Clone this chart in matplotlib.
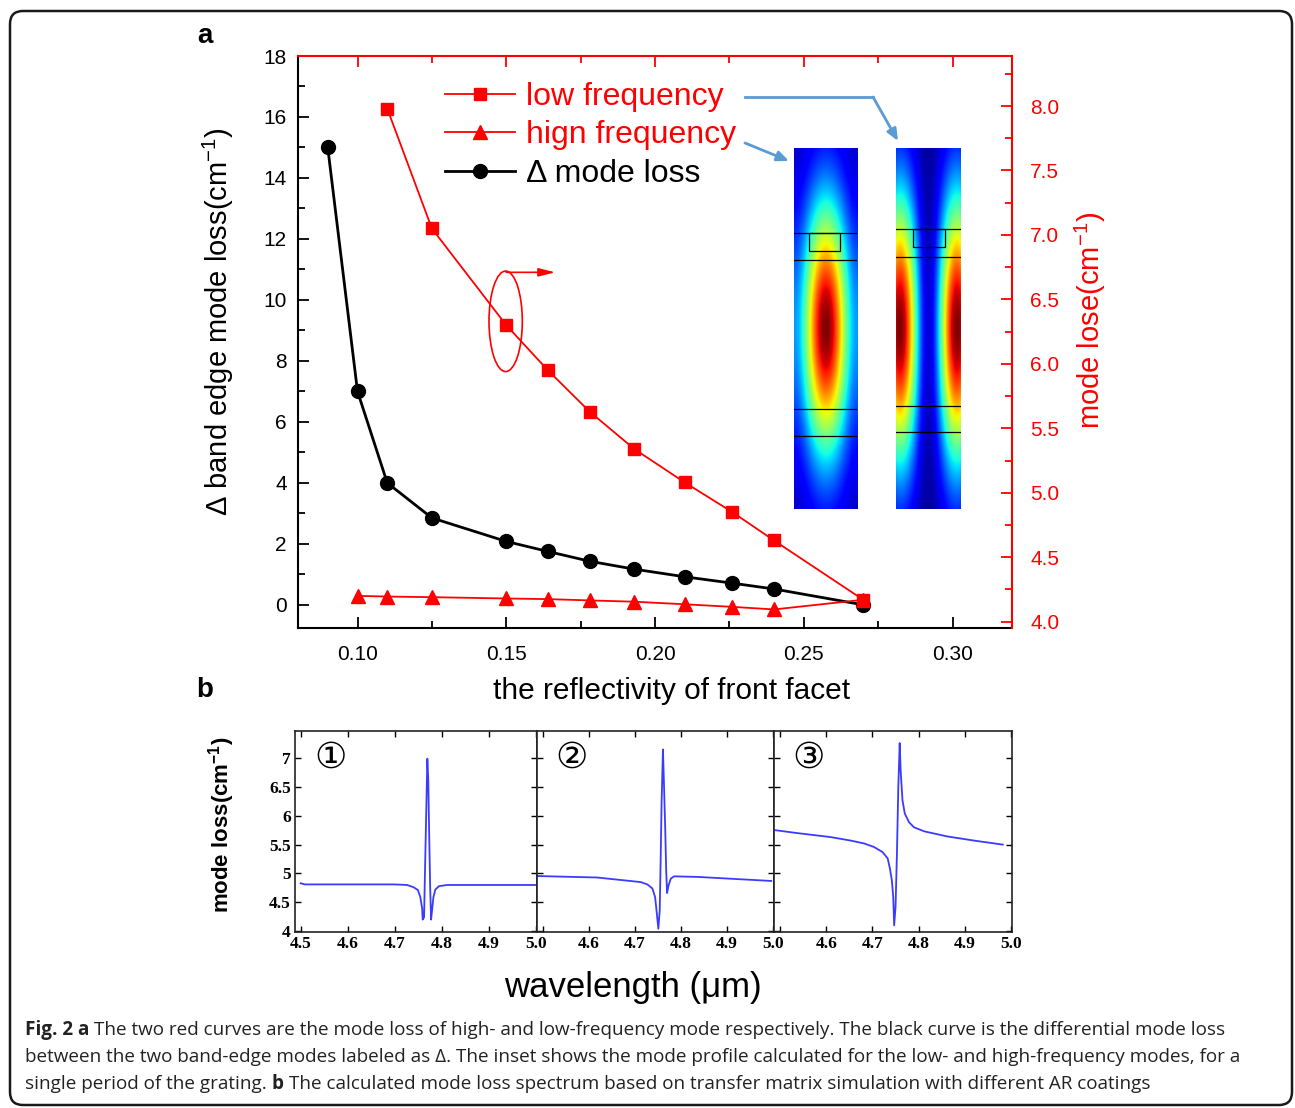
import numpy as np
import matplotlib
matplotlib.use('Agg')
import matplotlib.pyplot as plt
from matplotlib.patches import Ellipse, Rectangle, FancyBboxPatch
from matplotlib.lines import Line2D
from matplotlib.ticker import MultipleLocator, FixedLocator, FixedFormatter
from matplotlib.transforms import IdentityTransform

plt.rcParams['font.family'] = ['Liberation Sans', 'DejaVu Sans']
plt.rcParams['mathtext.default'] = 'regular'

# ---- panel a: mode loss vs. reflectivity of the front facet ----
refl_delta = [0.09, 0.10, 0.11, 0.125, 0.15, 0.164, 0.178, 0.193, 0.21, 0.226, 0.24, 0.27]
delta_loss = [15.0, 7.0, 4.0, 2.85, 2.08, 1.75, 1.43, 1.17, 0.92, 0.71, 0.52, 0.0]
refl_low = [0.11, 0.125, 0.15, 0.164, 0.178, 0.193, 0.21, 0.226, 0.24, 0.27]
loss_low = [7.98, 7.05, 6.30, 5.95, 5.63, 5.34, 5.08, 4.85, 4.63, 4.17]
refl_high = [0.10, 0.11, 0.125, 0.15, 0.164, 0.178, 0.193, 0.21, 0.226, 0.24, 0.27]
loss_high = [4.20, 4.195, 4.19, 4.18, 4.175, 4.165, 4.155, 4.135, 4.115, 4.095, 4.17]
legend_labels = ['low frequency', 'hign frequency', 'Δ mode loss']

# ---- panel b: mode loss spectra for three AR coatings ----
wl_1 = [4.499, 4.508, 4.697, 4.726, 4.740, 4.749, 4.754, 4.758, 4.759, 4.762, 4.764, 4.767,
        4.769, 4.771, 4.773, 4.775, 4.777, 4.779, 4.782, 4.786, 4.794, 4.811, 5.0]
loss_1 = [4.83, 4.81, 4.81, 4.80, 4.76, 4.71, 4.59, 4.39, 4.20, 4.24, 5.05, 6.21,
          6.99, 6.61, 5.63, 4.76, 4.20, 4.36, 4.59, 4.72, 4.78, 4.80, 4.80]
wl_2 = [4.489, 4.618, 4.713, 4.727, 4.738, 4.744, 4.747, 4.751, 4.754, 4.756, 4.758,
        4.761, 4.763, 4.766, 4.768, 4.770, 4.773, 4.778, 4.785, 4.836, 4.996]
loss_2 = [4.955, 4.93, 4.85, 4.81, 4.74, 4.59, 4.36, 4.04, 4.36, 5.23, 6.21,
          7.15, 6.61, 5.75, 5.05, 4.66, 4.79, 4.91, 4.95, 4.94, 4.87]
wl_3 = [4.490, 4.537, 4.610, 4.653, 4.682, 4.703, 4.722, 4.733, 4.738, 4.742, 4.745,
        4.747, 4.750, 4.753, 4.756, 4.759, 4.761, 4.765, 4.770, 4.779, 4.790, 4.812,
        4.863, 4.920, 4.982]
loss_3 = [5.75, 5.70, 5.63, 5.57, 5.52, 5.46, 5.37, 5.26, 5.08, 4.88, 4.59,
          4.10, 4.42, 5.34, 6.50, 7.26, 6.79, 6.27, 6.04, 5.89, 5.80, 5.73,
          5.64, 5.57, 5.50]
spectra = [(wl_1, loss_1), (wl_2, loss_2), (wl_3, loss_3)]
panel_marks = ['①', '②', '③']
b_yticks = [4, 4.5, 5, 5.5, 6, 6.5, 7]
b_yticklabels = ['4', '4.5', '5', '5.5', '6', '6.5', '7']
b_xticks = [4.5, 4.6, 4.7, 4.8, 4.9, 5.0]
b_xticklabels = ['4.5', '4.6', '4.7', '4.8', '4.9', '5.0']

caption = [
    [('Fig. 2 a', True), ('The two red curves are the mode loss of high- and low-frequency mode respectively. The black curve is the differential mode loss', False)],
    [('between the two band-edge modes labeled as Δ. The inset shows the mode profile calculated for the low- and high-frequency modes, for a', False)],
    [('single period of the grating.', False), ('b', True), ('The calculated mode loss spectrum based on transfer matrix simulation with different AR coatings', False)],
]

W, H = 1295, 1108
fig = plt.figure(figsize=(W / 100, H / 100), dpi=100)


def px_axes(x0, y0, x1, y1):
    # axes box given in pixels of the reference (origin top-left)
    return fig.add_axes([x0 / W, 1 - y1 / H, (x1 - x0) / W, (y1 - y0) / H])


def fx(x):
    return x / W


def fy(y):
    return 1 - y / H


# ================= panel a =================
ax = px_axes(298, 56, 1012, 628)
ax2 = ax.twinx()

l_delta, = ax.plot(refl_delta, delta_loss, '-o', color='black', lw=2, ms=10)
l_low, = ax2.plot(refl_low, loss_low, '-s', color='red', lw=1.3, ms=8.5)
l_high, = ax2.plot(refl_high, loss_high, '-^', color='red', lw=1.3, ms=9.5)

ax.set_xlim(0.08, 0.32)
ax.set_ylim(-0.76, 18)
ax2.set_ylim(3.951, 8.388)

ax.xaxis.set_major_locator(MultipleLocator(0.05))
ax.xaxis.set_minor_locator(MultipleLocator(0.025))
ax.yaxis.set_major_locator(MultipleLocator(2))
ax.yaxis.set_minor_locator(MultipleLocator(1))
ax2.yaxis.set_major_locator(MultipleLocator(0.5))
ax2.yaxis.set_minor_locator(MultipleLocator(0.25))

ax.tick_params(which='both', direction='in', top=False, right=False, width=1.3, labelsize=15)
ax.tick_params(which='major', length=8)
ax.tick_params(which='minor', length=5)
ax.tick_params(axis='x', pad=12)
ax.tick_params(axis='y', pad=8)

ax2.xaxis.set_visible(True)
ax2.tick_params(axis='x', which='both', direction='in', top=True, bottom=False,
                labeltop=False, labelbottom=False, color='red', width=1.3)
ax2.tick_params(axis='y', which='both', direction='in', color='red', labelcolor='red',
                width=1.3, labelsize=15, pad=13)
ax2.tick_params(which='major', length=8)
ax2.tick_params(which='minor', length=5)

for s in ['top', 'right']:
    ax.spines[s].set_visible(False)
    ax2.spines[s].set_color('red')
    ax2.spines[s].set_linewidth(1.5)
for s in ['left', 'bottom']:
    ax2.spines[s].set_visible(False)
    ax.spines[s].set_linewidth(1.5)

ax2.legend([l_low, l_high, l_delta], legend_labels, loc='upper left',
           bbox_to_anchor=(0.206, 0.955), frameon=False, fontsize=23,
           handlelength=2.2, handletextpad=0.34, labelspacing=0.27,
           borderpad=0, borderaxespad=0, labelcolor=['red', 'red', 'black'])

# red ellipse + arrow pointing at the right axis
ax2.add_patch(Ellipse((0.1498, 6.33), width=0.0112, height=0.78, fill=False, ec='red', lw=1.2))
ax2.annotate('', xy=(0.1665, 6.71), xytext=(0.1500, 6.71),
             arrowprops=dict(arrowstyle='-|>,head_length=1.0,head_width=0.25',
                             color='red', lw=1.2, shrinkA=0, shrinkB=0))

fig.text(fx(672), fy(691), 'the reflectivity of front facet', fontsize=21.5, ha='center', va='center')
fig.text(fx(218), fy(322), 'Δ band edge mode loss(cm$^{-1}$)', fontsize=21,
         rotation=90, ha='center', va='center')
fig.text(fx(1090), fy(320), 'mode lose(cm$^{-1}$)', fontsize=21, color='red',
         rotation=90, ha='center', va='center')
fig.text(fx(205), fy(36), 'a', fontsize=20, fontweight='bold', ha='center', va='center')
fig.text(fx(205), fy(690), 'b', fontsize=20, fontweight='bold', ha='center', va='center')

# ---- inset: mode profiles ----
prof_h = 361
d = np.linspace(-180, 180, prof_h)[:, None]
u = np.linspace(-0.5, 0.5, 64)[None, :]
field_high = 0.04 + 0.96 * np.exp(-(d / 123) ** 2) * (0.25 + 0.75 * np.cos(np.pi * u) ** 2)
field_low = 0.02 + 0.98 * np.exp(-(d / 132) ** 2) * (0.06 + 0.94 * np.sin(np.pi * u * 1.12) ** 2)


def mode_inset(x0, x1, field, lines, tooth):
    iax = px_axes(x0, 148, x1, 509)
    w = x1 - x0
    iax.imshow(field, cmap='jet', aspect='auto', vmin=0, vmax=1, extent=[0, w, prof_h, 0])
    for yl in lines:
        iax.plot([0, w], [yl, yl], color='black', lw=0.9)
    iax.add_patch(Rectangle((tooth[0], tooth[2]), tooth[1] - tooth[0], tooth[3] - tooth[2],
                            fill=False, ec='black', lw=0.9))
    iax.set_xlim(0, w)
    iax.set_ylim(prof_h, 0)
    iax.axis('off')


mode_inset(793.5, 857, field_high, [84.7, 112, 261, 287.7], (15.4, 46.5, 84.7, 102.7))
mode_inset(896, 960.5, field_low, [81.3, 108.7, 257.7, 284.3], (17, 48.7, 81, 99.3))

arrow_blue = '#5b9bd5'
fig.add_artist(Line2D([fx(745), fx(873)], [fy(97), fy(97)], color=arrow_blue, lw=2,
                      transform=fig.transFigure))
ax2.annotate('', xy=(898, H - 141), xytext=(873, H - 97), xycoords='figure pixels',
             textcoords='figure pixels', annotation_clip=False,
             arrowprops=dict(arrowstyle='-|>,head_length=0.7,head_width=0.3', color=arrow_blue,
                             lw=2, shrinkA=0, shrinkB=0))
ax2.annotate('', xy=(789, H - 161), xytext=(745, H - 143), xycoords='figure pixels',
             textcoords='figure pixels', annotation_clip=False,
             arrowprops=dict(arrowstyle='-|>,head_length=0.7,head_width=0.3', color=arrow_blue,
                             lw=2, shrinkA=0, shrinkB=0))

# ================= panel b =================
b_boxes = [(295, 536.7), (536.7, 774), (774, 1012)]
for i, ((x0, x1), (wl, loss)) in enumerate(zip(b_boxes, spectra)):
    bx = px_axes(x0, 731, x1, 931.7)
    bx.plot(wl, loss, color='#3b3bff', lw=1.3)
    bx.set_xlim(4.487, 5.002)
    bx.set_ylim(3.99, 7.47)
    bx.xaxis.set_major_locator(FixedLocator(b_xticks))
    bx.yaxis.set_major_locator(FixedLocator(b_yticks))
    xl = list(b_xticklabels)
    if i > 0:
        xl[0] = ''
    bx.xaxis.set_major_formatter(FixedFormatter(xl))
    if i == 0:
        bx.yaxis.set_major_formatter(FixedFormatter(b_yticklabels))
    else:
        bx.set_yticklabels([])
    bx.tick_params(direction='in', top=True, right=True, length=4, width=1, pad=3)
    for lab in bx.get_xticklabels() + bx.get_yticklabels():
        lab.set_family('Liberation Serif')
        lab.set_fontsize(12.5)
        lab.set_fontweight('bold')
    for s in bx.spines.values():
        s.set_linewidth(1.2)
        s.set_color('#222222')
    bx.text(0.145, 0.865, panel_marks[i], transform=bx.transAxes, fontsize=26,
            family=['DejaVu Serif', 'DejaVu Sans', 'Noto Sans CJK JP'], ha='center', va='center')

fig.text(fx(222), fy(825), 'mode loss(cm$^{-1}$)', fontsize=16, fontweight='bold',
         rotation=90, ha='center', va='center')
fig.text(fx(633), fy(987), 'wavelength (μm)', fontsize=25, ha='center', va='center')

# ================= caption =================
renderer = fig.canvas.get_renderer()
cap_fs = 13.6
space_px = cap_fs * 100 / 72 * 0.26
for row, y in zip(caption, [1030, 1057, 1084]):
    x = 25
    for txt, bold in row:
        t = fig.text(fx(x), fy(y), txt, fontsize=cap_fs, family='Open Sans',
                     fontweight='bold' if bold else 'normal', ha='left', va='center', color='#222222')
        x += t.get_window_extent(renderer).width + space_px

# rounded frame around the whole figure
fig.add_artist(FancyBboxPatch((10, 3), 1282, 1094, boxstyle='round,pad=0,rounding_size=13',
                              transform=IdentityTransform(), fill=False, ec='#1a1a1a', lw=1.8))

fig.savefig('out.png', dpi=100)
